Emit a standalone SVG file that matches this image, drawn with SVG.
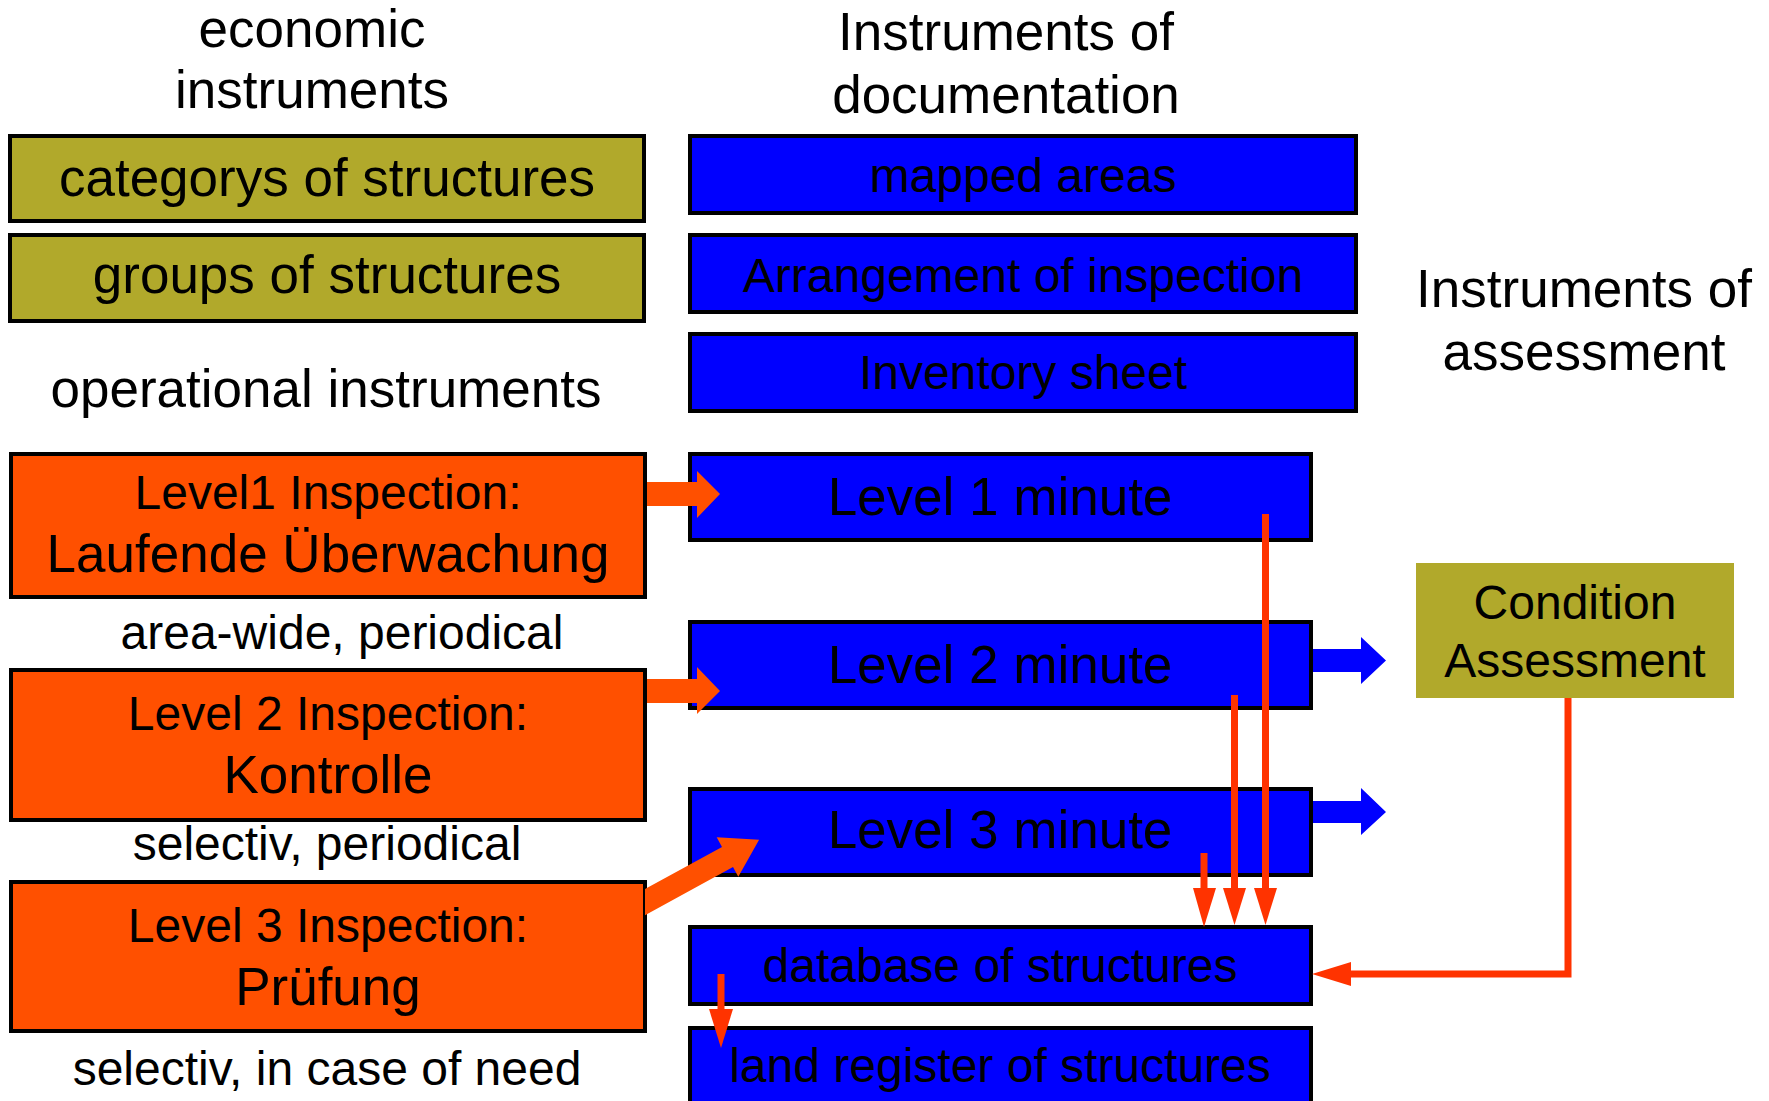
<svg xmlns="http://www.w3.org/2000/svg" width="1769" height="1101" viewBox="0 0 1769 1101">
<style>
text{font-family:"Liberation Sans",Arial,sans-serif;fill:#000;text-anchor:middle}
.t53{font-size:53px}
.t48{font-size:48px}
.olive{fill:#B1A92B;stroke:#000;stroke-width:4}
.orange{fill:#FF5000;stroke:#000;stroke-width:4}
.blue{fill:#0000FF;stroke:#000;stroke-width:4}
.thin{stroke:#FF3300;stroke-width:7;fill:none}
.thinhead{fill:#FF3300}
.thick{fill:#FF5000}
.barrow{fill:#0000FF}
</style>
<rect width="1769" height="1101" fill="#fff"/>
<g id="titles">
<text class="t53" x="312" y="47">economic</text>
<text class="t53" x="312" y="108">instruments</text>
<text class="t53" x="1006" y="50">Instruments of</text>
<text class="t53" x="1006" y="113">documentation</text>
<text class="t53" x="1584" y="307">Instruments of</text>
<text class="t53" x="1584" y="370">assessment</text>
<text class="t53" x="326" y="407">operational instruments</text>
<text class="t48" x="342" y="649">area-wide, periodical</text>
<text class="t48" x="327" y="860">selectiv, periodical</text>
<text class="t48" x="327" y="1085">selectiv, in case of need</text>
</g>
<g id="categorys">
<rect class="olive" x="10" y="136" width="634" height="85"/>
<text class="t53" x="327" y="196">categorys of structures</text>
</g>
<g id="groups">
<rect class="olive" x="10" y="235" width="634" height="86"/>
<text class="t53" x="327" y="293">groups of structures</text>
</g>
<g id="level1-inspection">
<rect class="orange" x="11" y="454" width="634" height="143"/>
<text class="t48" x="328" y="509">Level1 Inspection:</text>
<text class="t53" x="328" y="572">Laufende Überwachung</text>
</g>
<g id="level2-inspection">
<rect class="orange" x="11" y="670" width="634" height="150"/>
<text class="t48" x="328" y="730">Level 2 Inspection:</text>
<text class="t53" x="328" y="793">Kontrolle</text>
</g>
<g id="level3-inspection">
<rect class="orange" x="11" y="882" width="634" height="149"/>
<text class="t48" x="328" y="942">Level 3 Inspection:</text>
<text class="t53" x="328" y="1005">Prüfung</text>
</g>
<g id="mapped-areas">
<rect class="blue" x="690" y="136" width="666" height="77"/>
<text class="t48" x="1023" y="192">mapped areas</text>
</g>
<g id="arrangement">
<rect class="blue" x="690" y="235" width="666" height="77"/>
<text class="t48" x="1023" y="292">Arrangement of inspection</text>
</g>
<g id="inventory">
<rect class="blue" x="690" y="334" width="666" height="77"/>
<text class="t48" x="1023" y="389">Inventory sheet</text>
</g>
<g id="level1-minute">
<rect class="blue" x="690" y="454" width="621" height="86"/>
<text class="t53" x="1000" y="515">Level 1 minute</text>
</g>
<g id="level2-minute">
<rect class="blue" x="690" y="622" width="621" height="86"/>
<text class="t53" x="1000" y="683">Level 2 minute</text>
</g>
<g id="level3-minute">
<rect class="blue" x="690" y="789" width="621" height="86"/>
<text class="t53" x="1000" y="848">Level 3 minute</text>
</g>
<g id="database">
<rect class="blue" x="690" y="927" width="621" height="77"/>
<text class="t48" x="1000" y="982">database of structures</text>
</g>
<g id="land-register">
<rect class="blue" x="690" y="1028" width="621" height="80"/>
<text class="t48" x="1000" y="1082">land register of structures</text>
</g>
<g id="condition-assessment">
<rect x="1416" y="563" width="318" height="135" fill="#B1A92B"/>
<text class="t48" x="1575" y="619">Condition</text>
<text class="t48" x="1575" y="677">Assessment</text>
</g>
<g id="connectors">
<polygon class="thick" points="647,482 697,482 697,471 720,494 697,518 697,506 647,506"/>
<polygon class="thick" points="647,679 697,679 697,667 720,691 697,714 697,703 647,703"/>
<polygon class="thick" points="645,889 722,846.9 716.7,837.3 759.1,839.7 738.3,876.7 733,867.1 645,915.3"/>
<polygon class="barrow" points="1313,649 1361,649 1361,637 1386,660.5 1361,684 1361,672 1313,672"/>
<polygon class="barrow" points="1313,801 1361,801 1361,788 1386,812 1361,835 1361,823 1313,823"/>
<line class="thin" x1="1265.5" y1="514" x2="1265.5" y2="890"/>
<polygon class="thinhead" points="1254,888 1277,888 1265.5,925"/>
<line class="thin" x1="1234.5" y1="695" x2="1234.5" y2="890"/>
<polygon class="thinhead" points="1223,888 1246,888 1234.5,925"/>
<line class="thin" x1="1204" y1="853" x2="1204" y2="890"/>
<polygon class="thinhead" points="1193,888 1216,888 1204,927"/>
<line class="thin" x1="721" y1="974" x2="721" y2="1011"/>
<polygon class="thinhead" points="709,1009 733,1009 721,1048"/>
<polyline class="thin" points="1568,698 1568,974 1349,974"/>
<polygon class="thinhead" points="1351,962 1351,986 1312,974"/>
</g>
</svg>
